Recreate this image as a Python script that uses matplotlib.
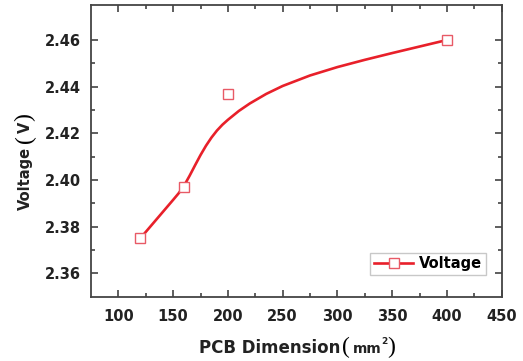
import matplotlib
matplotlib.use('Agg')
import matplotlib.pyplot as plt
from matplotlib.lines import Line2D

# measured points
dim = [120, 160, 200, 400]
volt = [2.375, 2.397, 2.437, 2.460]

# smooth curve
fit_x = [120, 130, 140, 150, 155, 160, 165, 170, 175, 180, 185, 190, 195, 200,
         210, 220, 235, 250, 275, 300, 325, 350, 375, 400]
fit_y = [2.3750, 2.3805, 2.3860, 2.3915, 2.3943, 2.3976, 2.4018, 2.4063, 2.4107,
         2.4147, 2.4182, 2.4212, 2.4237, 2.4258, 2.4296, 2.4328, 2.4369, 2.4403,
         2.4448, 2.4484, 2.4515, 2.4544, 2.4572, 2.4600]

xticks = [100, 150, 200, 250, 300, 350, 400, 450]
yticks = [2.36, 2.38, 2.40, 2.42, 2.44, 2.46]

W, H = 523, 361
fig = plt.figure(figsize=(W / 100, H / 100), dpi=100)
ax = fig.add_axes([91 / W, 1 - 296.7 / H, 410.7 / W, 291.7 / H])

red = '#e8202a'
mk = '#e85a66'
ax.plot(fit_x, fit_y, color=red, lw=1.9, solid_joinstyle='round', zorder=2)
ax.plot(dim, volt, ls='none', marker='s', ms=7, mfc='white', mec=mk, mew=1.0, zorder=3)

ax.set_xlim(75, 450)
ax.set_ylim(2.35, 2.475)
ax.set_xticks(xticks)
ax.set_yticks(yticks)
ax.set_xticks([125, 175, 225, 275, 325, 375, 425], minor=True)
ax.set_yticks([2.37, 2.39, 2.41, 2.43, 2.45], minor=True)
ax.set_yticklabels(['%.2f' % v for v in yticks])

ax.tick_params(which='both', direction='in', top=True, right=True, colors='#333333',
               labelsize=10.5)
ax.tick_params(which='major', length=5, width=1.1)
ax.tick_params(which='minor', length=3, width=1.1)
ax.tick_params(axis='y', pad=7)
ax.tick_params(axis='x', pad=9)
for lab in ax.get_xticklabels() + ax.get_yticklabels():
    lab.set_fontweight('bold')
    lab.set_color('#222222')
for s in ax.spines.values():
    s.set_color('#444444')
    s.set_linewidth(1.3)

handle = Line2D([], [], color=red, lw=1.9, marker='s', ms=7, mfc='white', mec=mk, mew=1.0)
leg = ax.legend([handle], ['Voltage'], loc='lower right', bbox_to_anchor=(0.962, 0.075),
                prop={'weight': 'bold', 'size': 10.5}, fancybox=False, edgecolor='#bbbbbb',
                handlelength=2.7, borderpad=0.25, handletextpad=0.4, borderaxespad=0)
leg.get_frame().set_linewidth(1.0)


def px(x, y):
    return x / W, 1 - y / H


# y label: Voltage(V)
fig.text(*px(25, 178.5), 'Voltage', rotation=90, ha='center', va='center',
         fontsize=10.5, fontweight='bold', color='#222222')
fig.text(*px(25, 139), '(', rotation=90, ha='center', va='center',
         fontsize=17, family='Liberation Serif')
fig.text(*px(25, 127.5), 'V', rotation=90, ha='center', va='center',
         fontsize=10.5, fontweight='bold', color='#222222')
fig.text(*px(25, 117), ')', rotation=90, ha='center', va='center',
         fontsize=17, family='Liberation Serif')

# x label: PCB Dimension(mm2)
fig.text(*px(270, 348), 'PCB Dimension', ha='center', va='center',
         fontsize=12, fontweight='bold', color='#222222')
fig.text(*px(346, 347), '(', ha='center', va='center',
         fontsize=17, family='Liberation Serif')
fig.text(*px(367, 349), 'mm', ha='center', va='center',
         fontsize=10, fontweight='bold', color='#222222')
fig.text(*px(384, 341), '2', ha='center', va='center',
         fontsize=6.5, fontweight='bold', color='#222222')
fig.text(*px(391.5, 347), ')', ha='center', va='center',
         fontsize=17, family='Liberation Serif')

fig.savefig('out.png', dpi=100)
